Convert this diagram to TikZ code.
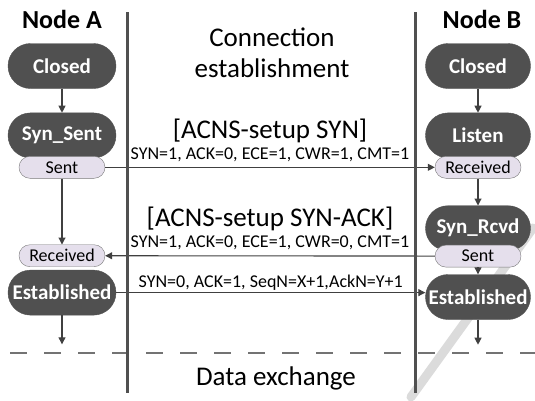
\documentclass[tikz,border=0pt]{standalone}
\usepackage{fontspec}
\setmainfont{Carlito}
\usepackage{tikz}
\usetikzlibrary{positioning, arrows.meta}

\definecolor{statefill}{RGB}{80,80,80}
\definecolor{pillfill}{RGB}{229,223,236}
\definecolor{pillline}{RGB}{120,120,120}
\definecolor{wiregray}{RGB}{64,64,64}

\begin{document}
\begin{tikzpicture}[
    x=1pt, y=-1pt,
    node distance=24pt,
    state/.style={draw=statefill, fill=statefill, rounded corners=22.5pt,
      minimum height=45pt, minimum width=108pt, inner sep=0pt, text=white,
      font=\fontsize{21}{24}\selectfont\bfseries},
    pill/.style={draw=pillline, fill=pillfill, rounded corners=11pt,
      minimum height=22pt, minimum width=86pt, inner sep=0pt,
      font=\fontsize{18}{20}\selectfont},
    header/.style={font=\fontsize{26}{30}\selectfont\bfseries, inner sep=0pt},
    phase/.style={font=\fontsize{27}{31}\selectfont, align=center, inner sep=0pt},
    msgtitle/.style={font=\fontsize{27}{31}\selectfont, inner sep=1pt},
    flags/.style={font=\fontsize{18}{21}\selectfont, inner sep=3pt},
    arrow/.style={draw=wiregray, line width=1.1pt, -{Triangle[length=7pt, width=7pt]}},
    lifeline/.style={draw=statefill, line width=3pt},
    divider/.style={draw=black!55, line width=1.3pt, dash pattern=on 17pt off 17pt, dash phase=24pt}
]
\useasboundingbox (0,0) rectangle (535,400);

% faint stroke in the lower right corner
\draw[black!14, line width=9pt, line cap=round] (411,397) -- (533,228);

% headers
\node[header, anchor=base] (headA) at (62,28) {Node A};
\node[header, anchor=base] (headB) at (482,28) {Node B};
\node[phase] (connect) at (272,53) {Connection\\establishment};
\node[phase, anchor=base] (data) at (276,385) {Data exchange};

% Node A states
\node[state] (closedA) at (62,66) {Closed};
\node[state, below=of closedA] (synsent) {Syn\_Sent};
\node[pill, below=-2pt of synsent] (sentA) {Sent};
\node[pill, below=66pt of sentA] (receivedA) {Received};
\node[state, below=3pt of receivedA] (establishedA) {Established};
\coordinate[below=29pt of establishedA] (exitA);

% Node B states
\node[state, minimum width=105pt] (closedB) at (478,66) {Closed};
\node[state, minimum width=105pt, below=of closedB] (listen) {Listen};
\node[pill, below=-2pt of listen] (receivedB) {Received};
\node[state, minimum width=105pt, below=27pt of receivedB] (synrcvd) {Syn\_Rcvd};
\node[pill, below=-6pt of synrcvd] (sentB) {Sent};
\node[state, minimum width=105pt, below=7pt of sentB] (establishedB) {Established};
\coordinate[below=25pt of establishedB] (exitB);

\draw[arrow] (closedA) -- (synsent);
\draw[arrow] (sentA) -- (receivedA);
\draw[arrow] (establishedA) -- (exitA);
\draw[arrow] (closedB) -- (listen);
\draw[arrow] (receivedB) -- (synrcvd);
\draw[arrow] (sentB) -- (establishedB);
\draw[arrow] (establishedB) -- (exitB);

% messages
\draw[arrow] (sentA) -- (receivedB)
  node[flags, midway, above, yshift=2pt] (flagsSyn) {SYN=1, ACK=0, ECE=1, CWR=1, CMT=1};
\node[msgtitle, above=0pt of flagsSyn] (titleSyn) {[ACNS-setup SYN]};
\draw[arrow] (sentB) -- (receivedA)
  node[flags, midway, above, yshift=3pt] (flagsSynAck) {SYN=1, ACK=0, ECE=1, CWR=0, CMT=1};
\node[msgtitle, above=0pt of flagsSynAck] (titleSynAck) {[ACNS-setup SYN-ACK]};
\draw[arrow] (establishedA.east) -- (establishedA.east -| establishedB.west)
  node[flags, midway, above, inner sep=2pt] (flagsAck) {SYN=0, ACK=1, SeqN=X+1,AckN=Y+1};

% lifelines and divider
\coordinate (lifeAtop) at (127,12);
\coordinate (lifeAbot) at (127,393);
\coordinate (lifeBtop) at (415,12);
\coordinate (lifeBbot) at (415,393);
\coordinate (dashL) at (0,353);
\coordinate (dashR) at (535,353);
\draw[divider] (dashL) -- (dashR);
\draw[lifeline] (lifeAtop) -- (lifeAbot);
\draw[lifeline] (lifeBtop) -- (lifeBbot);
\end{tikzpicture}
\end{document}
